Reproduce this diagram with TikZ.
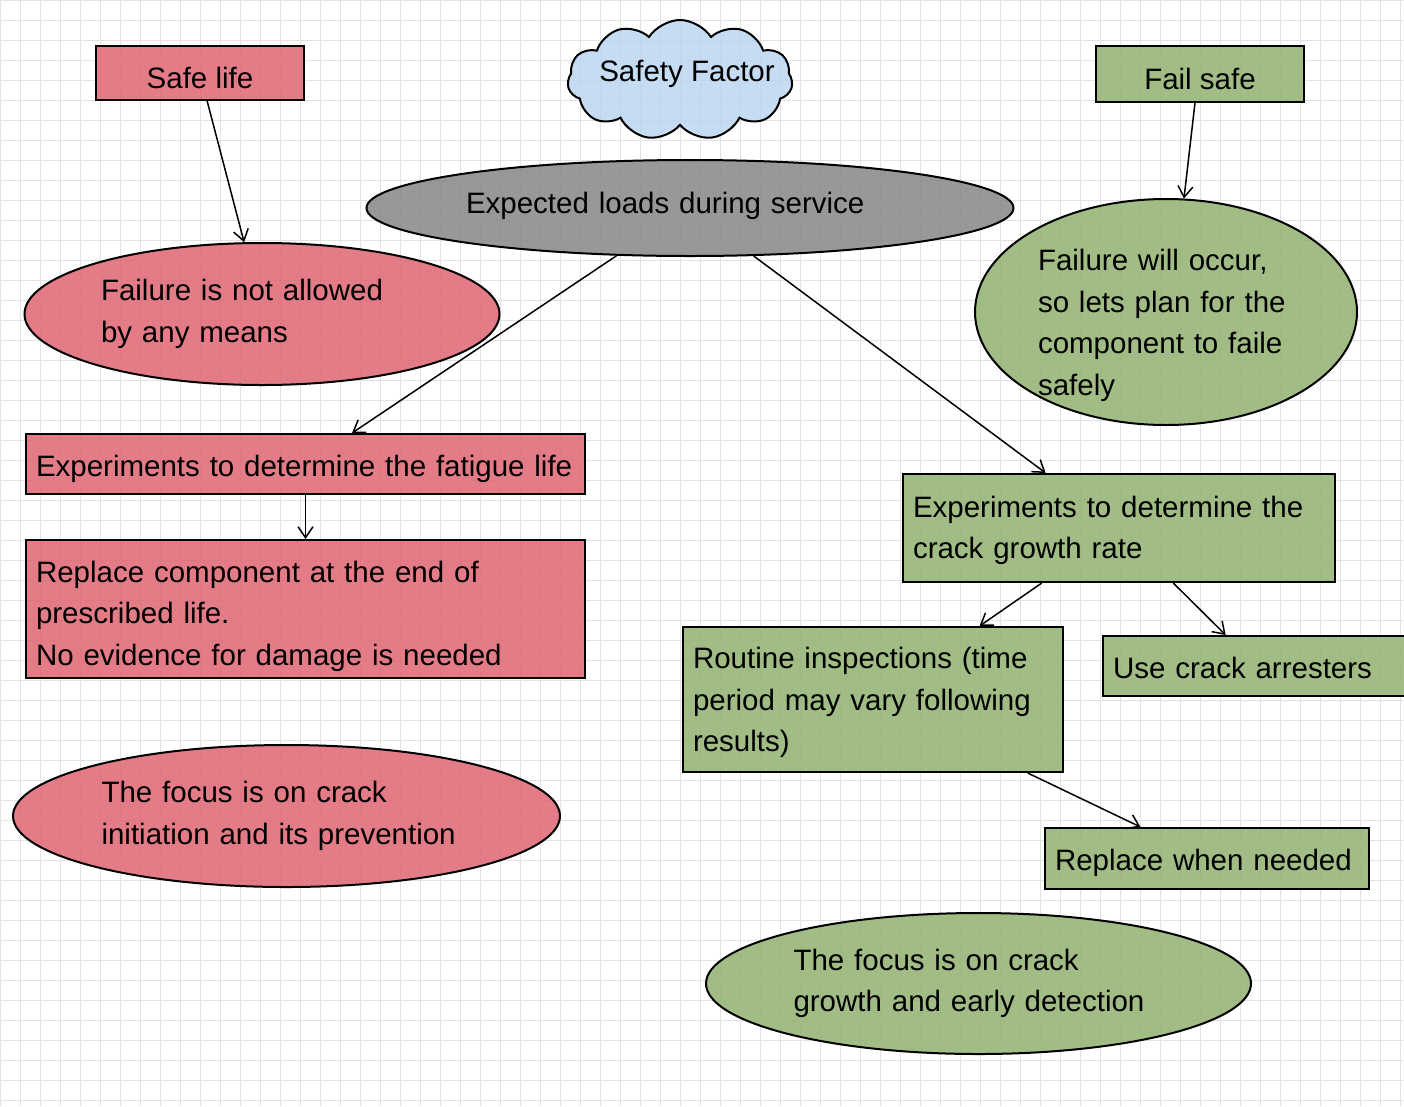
\documentclass[tikz,border=0pt]{standalone}
\usepackage{fontspec}
\setmainfont{Liberation Sans}
\usepackage{xcolor}
\usepackage{tikz}
\usetikzlibrary{shapes.geometric,shapes.symbols,arrows.meta,calc}

\definecolor{lifered}{HTML}{E06673}
\definecolor{safegreen}{HTML}{92B170}
\definecolor{loadgray}{HTML}{878787}
\definecolor{cloudblue}{HTML}{BCD6F0}
\definecolor{gridgray}{HTML}{E2E2E2}

\begin{document}
\begin{tikzpicture}[x=1pt,y=-1pt,
  font=\fontsize{29.5}{41.5}\selectfont,
  gridline/.style={draw=gridgray, line width=1pt},
  shade/.style={fill opacity=0.85, text opacity=1},
  box/.style={draw, shade, line width=2pt, rectangle, inner xsep=10pt, inner ysep=0pt, align=left},
  oval/.style={draw, shade, line width=2pt, ellipse, inner sep=0pt, align=left},
  link/.style={line width=1.5pt, -{Straight Barb[length=11pt,width=15pt]}}]
\useasboundingbox (0,0) rectangle (1404,1106);

\fill[white] (0,0) rectangle (1404,1106);
\foreach \gx in {0,20,...,1400}
  \draw[gridline] (\gx,0) -- (\gx,1106);
\foreach \gy in {0,20,...,1100}
  \draw[gridline] (0,\gy) -- (1404,\gy);

\node[box, fill=lifered, minimum width=208pt, minimum height=54pt, align=center, text height=30pt, text depth=0pt] (safe) at (200,73) {Safe life};
\node[cloud, draw, shade, fill=cloudblue, line width=2pt, cloud puffs=11, cloud puff arc=115, cloud ignores aspect,
  minimum width=225pt, minimum height=120pt, inner sep=0pt, text height=22pt, text depth=20pt] (factor) at (680,80)
  {\makebox[0pt][c]{\hspace{14pt}Safety Factor}};
\node[box, fill=safegreen, minimum width=208pt, minimum height=56pt, align=center, text height=30pt, text depth=0pt] (failsafe) at (1200,74) {Fail safe};

\node[oval, fill=loadgray, minimum width=647pt, minimum height=96pt, text width=448pt, text height=22pt, text depth=12pt] (loads) at (690,208) {Expected loads during service};

\node[oval, fill=lifered, minimum width=475pt, minimum height=142pt, text width=322pt] (notallowed) at (262,314) {Failure is not allowed\\by any means};
\node[oval, fill=safegreen, minimum width=382pt, minimum height=226pt, text width=256pt, inner ysep=-15pt] (occur) at (1166,312) {\rule{0pt}{48pt}Failure will occur,\\so lets plan for the\\component to faile\\safely};

\node[box, fill=lifered, minimum width=559pt, minimum height=60pt, text width=539pt] (fatigue) at (305.5,464) {\rule{0pt}{32pt}Experiments to determine the fatigue life};
\node[box, fill=lifered, minimum width=559pt, minimum height=138pt, text width=539pt] (replace) at (305.5,609) {\rule{0pt}{36pt}Replace component at the end of\\prescribed life.\\No evidence for damage is needed};
\node[oval, fill=lifered, minimum width=547pt, minimum height=142pt, text width=370pt] (initiation) at (286.5,816) {The focus is on crack\\initiation and its prevention};

\node[box, fill=safegreen, minimum width=432pt, minimum height=108pt, text width=412pt] (growthrate) at (1119,528) {\rule{0pt}{26pt}Experiments to determine the\\crack growth rate};
\node[box, fill=safegreen, minimum width=380pt, minimum height=145pt, text width=360pt] (inspect) at (873,699.5) {\rule{0pt}{28pt}Routine inspections (time\\period may vary following\\results)};
\node[box, fill=safegreen, minimum width=320pt, minimum height=60pt, text width=300pt] (arrest) at (1263,666) {\rule{0pt}{26pt}Use crack arresters};
\node[box, fill=safegreen, minimum width=324pt, minimum height=61pt, text width=304pt] (whenneeded) at (1207,858.5) {\rule{0pt}{30pt}Replace when needed};
\node[oval, fill=safegreen, minimum width=545pt, minimum height=141pt, text width=370pt] (detection) at (978.5,983.5) {The focus is on crack\\growth and early detection};

\draw[link] ($(safe.south west)!0.534!(safe.south east)$) -- (notallowed.104);
\draw[link] ($(failsafe.south west)!0.476!(failsafe.south east)$) -- (occur.81);
\draw[link] (loads.-147) -- ($(fatigue.north west)!0.583!(fatigue.north east)$);
\draw[link] (loads.-37) -- ($(growthrate.north west)!0.331!(growthrate.north east)$);
\draw[link] (fatigue.south) -- (replace.north);
\draw[link] ($(growthrate.south west)!0.322!(growthrate.south east)$) -- ($(inspect.north west)!0.779!(inspect.north east)$);
\draw[link] ($(growthrate.south west)!0.625!(growthrate.south east)$) -- ($(arrest.north west)!0.384!(arrest.north east)$);
\draw[link] ($(inspect.south west)!0.905!(inspect.south east)$) -- ($(whenneeded.north west)!0.296!(whenneeded.north east)$);
\end{tikzpicture}
\end{document}
